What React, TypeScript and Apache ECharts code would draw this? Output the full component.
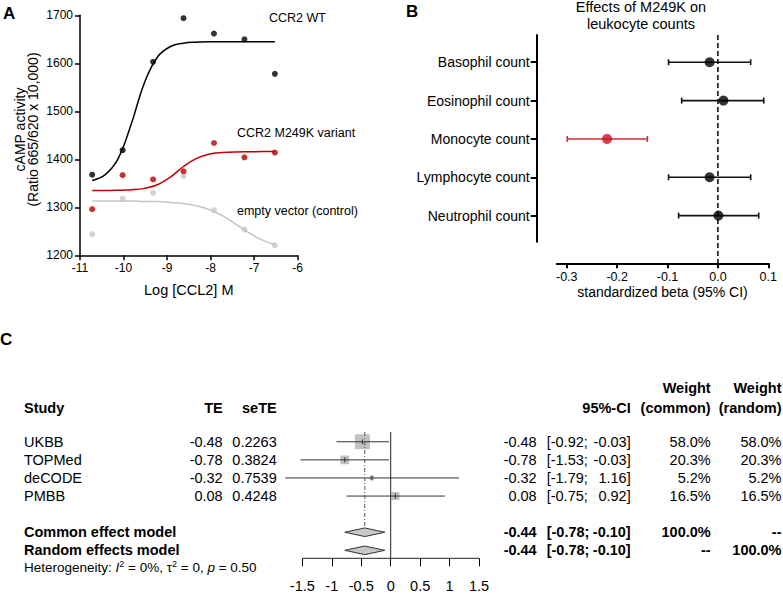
import React, { useEffect, useRef } from 'react';
import * as echarts from 'echarts';

const FONT = '"Liberation Sans", Arial, Helvetica, sans-serif';

// ---------- Panel A data ----------
const concLog = [-10.72, -10.02, -9.32, -8.62, -7.92, -7.22, -6.52];
const wtPoints = [1368, 1419, 1603, 1694, 1662, 1650, 1578];
const m249kPoints = [1296, 1367, 1358, 1375, 1434, 1404, 1414];
const emptyPoints = [1244, 1318, 1330, 1365, 1294, 1254, 1221];

// fitted curves at evenly spaced log concentrations
const curveX = [-10.72, -10.42, -10.12, -9.82, -9.52, -9.22, -8.92, -8.62, -8.32, -8.02, -7.72, -7.42, -7.12, -6.82, -6.52];
const wtCurveY = [1356, 1368, 1402, 1474, 1559, 1613, 1635, 1642, 1644, 1645, 1645, 1645, 1645, 1645, 1645];
const m249kCurveY = [1335, 1335, 1335.5, 1336.5, 1339.4, 1347, 1363, 1385, 1402, 1411, 1414, 1415.4, 1415.8, 1416, 1416];
const emptyCurveY = [1313, 1313, 1313, 1313, 1312, 1312, 1310, 1308, 1303, 1295, 1282, 1265, 1247, 1232, 1222];

const seriesLabels = ['CCR2 WT', 'CCR2 M249K variant', 'empty vector (control)'];

// ---------- Panel B data ----------
const traits = ['Basophil count', 'Eosinophil count', 'Monocyte count', 'Lymphocyte count', 'Neutrophil count'];
const betas = [-0.0165, 0.011, -0.22, -0.0165, 0.001];
const betaLo = [-0.098, -0.072, -0.299, -0.098, -0.078];
const betaHi = [0.065, 0.091, -0.14, 0.065, 0.081];
const betaTicks = [-0.3, -0.2, -0.1, 0, 0.1];
const betaTickLabels = ['-0.3', '-0.2', '-0.1', '0.0', '0.1'];
const highlightTrait = 'Monocyte count';

// ---------- Panel C data ----------
const studies = ['UKBB', 'TOPMed', 'deCODE', 'PMBB'];
const te = [-0.48, -0.78, -0.32, 0.08];
const seTE = [0.2263, 0.3824, 0.7539, 0.4248];
const ciLo = [-0.92, -1.53, -1.79, -0.75];
const ciHi = [-0.03, -0.03, 1.16, 0.92];
const weightCommon = [58.0, 20.3, 5.2, 16.5];
const weightRandom = [58.0, 20.3, 5.2, 16.5];
const models = ['Common effect model', 'Random effects model'];
const modelEst = [-0.44, -0.44];
const modelLo = [-0.78, -0.78];
const modelHi = [-0.10, -0.10];
const forestTicks = [-1.5, -1, -0.5, 0, 0.5, 1, 1.5];

const BLACK = '#000';
const RED = '#b80000';
const GRAY = '#c8c8c8';

// forest grid geometry
const C_TOP = 432;
const C_H = 126.3;
const C_YMIN = 0.46;
const C_YMAX = 7.44;
const rowY = (r: number) => C_TOP + ((r - C_YMIN) / (C_YMAX - C_YMIN)) * C_H;

const txt = (text: string, x: number, y: number, o: any = {}) => ({
  type: 'text',
  x,
  y,
  rotation: o.rotation || 0,
  silent: true,
  style: {
    text,
    fill: '#000',
    fontFamily: FONT,
    fontSize: o.size ?? 14.5,
    fontWeight: o.bold ? 'bold' : 'normal',
    align: o.align ?? 'left',
    verticalAlign: 'middle',
    lineHeight: o.lineHeight,
    rich: o.rich,
  },
});

function buildOption() {
  const pair = (xs: number[], ys: number[]) => xs.map((x, i) => [x, ys[i]]);

  const graphics: any[] = [];
  // panel letters
  graphics.push(txt('A', 3, 13, { size: 17, bold: true }));
  graphics.push(txt('B', 406, 11.5, { size: 17, bold: true }));
  graphics.push(txt('C', 0, 339, { size: 17, bold: true }));

  // Panel A annotations
  graphics.push(txt(seriesLabels[0], 269, 18.3, { size: 12.5 }));
  graphics.push(txt(seriesLabels[1], 237, 132.7, { size: 12.5 }));
  graphics.push(txt(seriesLabels[2], 237, 210.7, { size: 12.5 }));
  graphics.push(
    txt('cAMP activity\n(Ratio 665/620 x 10,000)', 26.5, 129.5, {
      size: 14,
      align: 'center',
      rotation: Math.PI / 2,
      lineHeight: 13.5,
    })
  );

  // Panel B title
  graphics.push(
    txt('Effects of M249K on\nleukocyte counts', 641, 15.5, { size: 14.5, align: 'center', lineHeight: 16.5 })
  );

  // Panel C table
  const xStudy = 24;
  const xTE = 222.7;
  const xSeTE = 276.7;
  const xEst = 536.7;
  const xCiL = 546.7;
  const xCiR = 630.7;
  const xWc = 710.7;
  const xWr = 781.5;
  const yHead2 = 388.3;
  const yHead = 407.5;
  graphics.push(txt('Weight', xWc, yHead2, { bold: true, align: 'right' }));
  graphics.push(txt('Weight', xWr, yHead2, { bold: true, align: 'right' }));
  graphics.push(txt('Study', xStudy, yHead, { bold: true }));
  graphics.push(txt('TE', xTE, yHead, { bold: true, align: 'right' }));
  graphics.push(txt('seTE', xSeTE, yHead, { bold: true, align: 'right' }));
  graphics.push(txt('95%-CI', xCiR, yHead, { bold: true, align: 'right' }));
  graphics.push(txt('(common)', xWc, yHead, { bold: true, align: 'right' }));
  graphics.push(txt('(random)', xWr, yHead, { bold: true, align: 'right' }));

  studies.forEach((s, i) => {
    const y = rowY(i + 1);
    graphics.push(txt(s, xStudy, y));
    graphics.push(txt(te[i].toFixed(2), xTE, y, { align: 'right' }));
    graphics.push(txt(seTE[i].toFixed(4), xSeTE, y, { align: 'right' }));
    graphics.push(txt(te[i].toFixed(2), xEst, y, { align: 'right' }));
    graphics.push(txt('[' + ciLo[i].toFixed(2) + ';', xCiL, y));
    graphics.push(txt(ciHi[i].toFixed(2) + ']', xCiR, y, { align: 'right' }));
    graphics.push(txt(weightCommon[i].toFixed(1) + '%', xWc, y, { align: 'right' }));
    graphics.push(txt(weightRandom[i].toFixed(1) + '%', xWr, y, { align: 'right' }));
  });
  models.forEach((m, i) => {
    const y = rowY(6 + i);
    graphics.push(txt(m, xStudy, y, { bold: true }));
    graphics.push(txt(modelEst[i].toFixed(2), xEst, y, { bold: true, align: 'right' }));
    graphics.push(txt('[' + modelLo[i].toFixed(2) + ';', xCiL, y, { bold: true }));
    graphics.push(txt(modelHi[i].toFixed(2) + ']', xCiR, y, { bold: true, align: 'right' }));
    graphics.push(txt(i === 0 ? '100.0%' : '--', xWc, y, { bold: true, align: 'right' }));
    graphics.push(txt(i === 1 ? '100.0%' : '--', xWr, y, { bold: true, align: 'right' }));
  });
  graphics.push(
    txt('Heterogeneity: {i|I}{sup|2} = 0%, τ{sup|2} = 0, {i|p} = 0.50', xStudy, rowY(8) - 0.5, {
      size: 13.5,
      lineHeight: 16,
      rich: {
        i: { fontStyle: 'italic', fontSize: 13.5, fontFamily: FONT, lineHeight: 16 },
        sup: { fontSize: 9, fontFamily: FONT, verticalAlign: 'top', lineHeight: 9 },
      },
    })
  );

  const axisText = { color: '#000', fontFamily: FONT };

  return {
    animation: false,
    backgroundColor: '#fff',
    textStyle: { fontFamily: FONT },
    grid: [
      { left: 80, top: 15.3, width: 217.5, height: 240 },
      { left: 556.7, top: 35, width: 211.6, height: 206.7 },
      { left: 284.7, top: C_TOP, width: 212, height: C_H },
    ],
    xAxis: [
      {
        gridIndex: 0,
        type: 'value',
        min: -11,
        max: -6,
        interval: 1,
        axisLine: { show: true, onZero: false, lineStyle: { color: '#000', width: 1.5 } },
        axisTick: { show: true, length: 5, lineStyle: { color: '#000', width: 1.5 } },
        axisLabel: { ...axisText, fontSize: 12, margin: 7, formatter: (v: any) => String(v) },
        splitLine: { show: false },
        name: 'Log [CCL2] M',
        nameLocation: 'middle',
        nameGap: 27,
        nameTextStyle: { ...axisText, fontSize: 14.5 },
      },
      {
        gridIndex: 1,
        type: 'value',
        min: -0.32,
        max: 0.1,
        offset: 21.6,
        axisLine: { show: true, onZero: false, lineStyle: { color: '#000', width: 2 } },
        axisTick: { show: true, length: 5, customValues: betaTicks, lineStyle: { color: '#000', width: 2 } },
        axisLabel: {
          ...axisText,
          fontSize: 12.5,
          margin: 7,
          customValues: betaTicks,
          formatter: (v: any) => {
            const n = Number(v);
            const k = betaTicks.findIndex((t) => Math.abs(t - n) < 1e-6);
            return k >= 0 ? betaTickLabels[k] : String(v);
          },
        },
        splitLine: { show: false },
        name: 'standardized beta (95% CI)',
        nameLocation: 'middle',
        nameGap: 22,
        nameTextStyle: { ...axisText, fontSize: 14 },
      },
      {
        gridIndex: 2,
        type: 'value',
        min: -1.8,
        max: 1.8,
        axisLine: { show: false },
        axisTick: { show: true, length: 8, customValues: forestTicks, lineStyle: { color: '#000', width: 1 } },
        axisLabel: { ...axisText, fontSize: 14.5, margin: 20, customValues: forestTicks, formatter: (v: any) => String(Number(v)) },
        splitLine: { show: false },
      },
    ],
    yAxis: [
      {
        gridIndex: 0,
        type: 'value',
        min: 1200,
        max: 1700,
        interval: 100,
        axisLine: { show: true, onZero: false, lineStyle: { color: '#000', width: 1.5 } },
        axisTick: { show: true, length: 5, lineStyle: { color: '#000', width: 1.5 } },
        axisLabel: { ...axisText, fontSize: 12, margin: 7, formatter: (v: any) => String(v) },
        splitLine: { show: false },
      },
      {
        gridIndex: 1,
        type: 'value',
        min: -0.71,
        max: 4.68,
        inverse: true,
        offset: 20,
        axisLine: { show: true, onZero: false, lineStyle: { color: '#000', width: 2 } },
        axisTick: { show: true, length: 6, customValues: [0, 1, 2, 3, 4], lineStyle: { color: '#000', width: 2 } },
        axisLabel: {
          ...axisText,
          fontSize: 14,
          margin: 7,
          customValues: [0, 1, 2, 3, 4],
          formatter: (v: any) => traits[Math.round(Number(v))] ?? '',
        },
        splitLine: { show: false },
      },
      {
        gridIndex: 2,
        type: 'value',
        min: C_YMIN,
        max: C_YMAX,
        inverse: true,
        show: false,
      },
    ],
    series: [
      // ----- Panel A -----
      {
        type: 'line', xAxisIndex: 0, yAxisIndex: 0, data: pair(curveX, emptyCurveY),
        smooth: 0.4, symbol: 'none', silent: true,
        lineStyle: { color: '#c4c4c4', width: 1.5 },
      },
      {
        type: 'line', xAxisIndex: 0, yAxisIndex: 0, data: pair(curveX, m249kCurveY),
        smooth: 0.4, symbol: 'none', silent: true,
        lineStyle: { color: '#c00000', width: 1.5 },
      },
      {
        type: 'line', xAxisIndex: 0, yAxisIndex: 0, data: pair(curveX, wtCurveY),
        smooth: 0.4, symbol: 'none', silent: true,
        lineStyle: { color: BLACK, width: 1.5 },
      },
      {
        type: 'scatter', xAxisIndex: 0, yAxisIndex: 0, data: pair(concLog, emptyPoints),
        symbolSize: 6, itemStyle: { color: GRAY }, silent: true,
      },
      {
        type: 'scatter', xAxisIndex: 0, yAxisIndex: 0, data: pair(concLog, m249kPoints),
        symbolSize: 6, itemStyle: { color: RED }, silent: true,
      },
      {
        type: 'scatter', xAxisIndex: 0, yAxisIndex: 0, data: pair(concLog, wtPoints),
        symbolSize: 6, itemStyle: { color: BLACK }, silent: true,
      },
      // ----- Panel B -----
      {
        type: 'line', xAxisIndex: 1, yAxisIndex: 1, data: [[0, -0.71], [0, 5.24]],
        clip: false, symbol: 'none', silent: true,
        lineStyle: { color: '#000', width: 1.5, type: [5, 3] },
      },
      {
        type: 'custom', xAxisIndex: 1, yAxisIndex: 1, silent: true,
        data: traits.map((t, i) => [betaLo[i], i, betaHi[i], t === highlightTrait ? 1 : 0]),
        encode: { x: [0, 2], y: 1 },
        renderItem: (params: any, api: any) => {
          const lo = api.value(0);
          const row = api.value(1);
          const hi = api.value(2);
          const color = api.value(3) ? '#d42a32' : '#111';
          const a = api.coord([lo, row]);
          const b = api.coord([hi, row]);
          const cap = 3;
          const st = { stroke: color, lineWidth: 1.6 };
          return {
            type: 'group',
            children: [
              { type: 'line', shape: { x1: a[0], y1: a[1], x2: b[0], y2: b[1] }, style: st },
              { type: 'line', shape: { x1: a[0], y1: a[1] - cap, x2: a[0], y2: a[1] + cap }, style: st },
              { type: 'line', shape: { x1: b[0], y1: b[1] - cap, x2: b[0], y2: b[1] + cap }, style: st },
            ],
          };
        },
      },
      {
        type: 'scatter', xAxisIndex: 1, yAxisIndex: 1, silent: true, symbolSize: 10,
        data: traits.map((t, i) => ({
          value: [betas[i], i],
          itemStyle: { color: t === highlightTrait ? '#c8101e' : '#000' },
        })),
      },
      // ----- Panel C -----
      {
        type: 'line', xAxisIndex: 2, yAxisIndex: 2, data: [[0, C_YMIN], [0, C_YMAX]],
        symbol: 'none', silent: true, lineStyle: { color: '#222', width: 1 },
      },
      {
        type: 'line', xAxisIndex: 2, yAxisIndex: 2, data: [[forestTicks[0], C_YMAX], [forestTicks[forestTicks.length - 1], C_YMAX]],
        symbol: 'none', silent: true, clip: false, lineStyle: { color: '#222', width: 1 },
      },
      {
        type: 'line', xAxisIndex: 2, yAxisIndex: 2, data: [[modelEst[0], C_YMIN], [modelEst[0], 5.72]],
        symbol: 'none', silent: true, lineStyle: { color: '#555', width: 1, type: [4, 2, 1, 2] },
      },
      {
        type: 'custom', xAxisIndex: 2, yAxisIndex: 2, silent: true, clip: false,
        data: studies.map((s, i) => [te[i], i + 1, ciLo[i], ciHi[i], weightCommon[i]]),
        encode: { x: [0, 2, 3], y: 1 },
        renderItem: (params: any, api: any) => {
          const est = api.value(0);
          const row = api.value(1);
          const lo = api.value(2);
          const hi = api.value(3);
          const w = api.value(4);
          const pE = api.coord([est, row]);
          const pL = api.coord([lo, row]);
          const pH = api.coord([hi, row]);
          const s = 1.97 * Math.sqrt(w);
          return {
            type: 'group',
            children: [
              { type: 'rect', shape: { x: pE[0] - s / 2, y: pE[1] - s / 2, width: s, height: s }, style: { fill: '#c2c2c2' } },
              { type: 'line', shape: { x1: pL[0], y1: pL[1], x2: pH[0], y2: pH[1] }, style: { stroke: '#333', lineWidth: 1 } },
              { type: 'line', shape: { x1: pE[0], y1: pE[1] - 2.5, x2: pE[0], y2: pE[1] + 2.5 }, style: { stroke: '#333', lineWidth: 1 } },
            ],
          };
        },
      },
      {
        type: 'custom', xAxisIndex: 2, yAxisIndex: 2, silent: true, clip: false,
        data: models.map((m, i) => [modelEst[i], 6 + i, modelLo[i], modelHi[i]]),
        encode: { x: [0, 2, 3], y: 1 },
        renderItem: (params: any, api: any) => {
          const est = api.value(0);
          const row = api.value(1);
          const c = api.coord([est, row]);
          const l = api.coord([api.value(2), row]);
          const h = api.coord([api.value(3), row]);
          const hh = 4.3;
          return {
            type: 'polygon',
            shape: { points: [[l[0], c[1]], [c[0], c[1] - hh], [h[0], c[1]], [c[0], c[1] + hh]] },
            style: { fill: '#c8c8c8', stroke: '#333', lineWidth: 1 },
          };
        },
      },
    ],
    graphic: { elements: graphics },
  };
}

export default function App() {
  const ref = useRef<HTMLDivElement>(null);
  useEffect(() => {
    if (!ref.current) return;
    const chart = echarts.init(ref.current, undefined, { renderer: 'svg' });
    chart.setOption(buildOption() as any);
    return () => chart.dispose();
  }, []);
  return (
    <div
      ref={ref}
      style={{ position: 'fixed', left: 0, top: 0, width: 783, height: 595, background: '#fff' }}
    />
  );
}
